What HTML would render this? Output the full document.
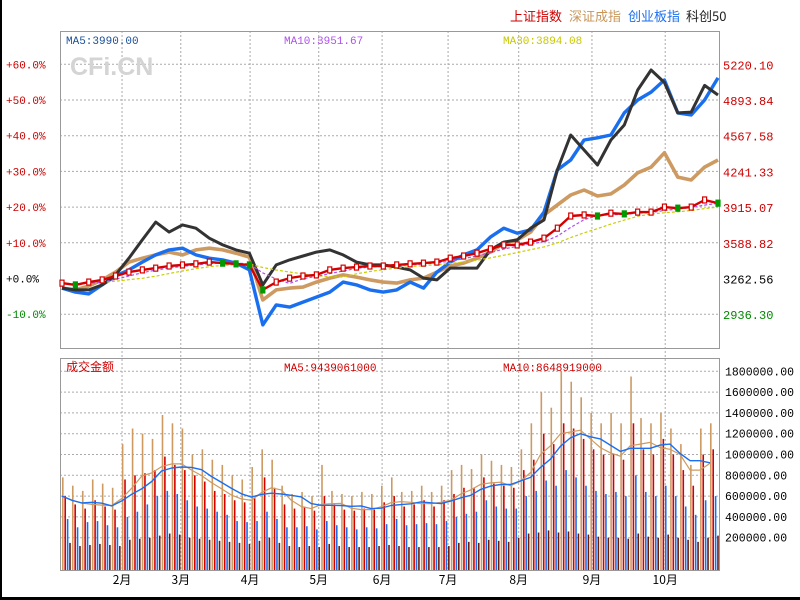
<!DOCTYPE html>
<html><head><meta charset="utf-8"><style>
html,body{margin:0;padding:0;background:#fff;}
svg{display:block;font-family:"Liberation Mono","WenQuanYi Zen Hei","Noto Sans CJK SC",monospace;}
</style></head><body>
<svg id="c" width="800" height="600">
<rect x="0" y="0" width="2" height="600" fill="#000"/>
<rect x="0" y="597" width="800" height="3" fill="#000"/>
<g font-family="'WenQuanYi Zen Hei','Noto Sans CJK SC',sans-serif" font-size="13">
<text x="510" y="21" fill="#cc0000">上证指数</text>
<text x="569" y="21" fill="#c8965a">深证成指</text>
<text x="628" y="21" fill="#1a6ff0">创业板指</text>
<text x="686" y="21" fill="#222">科创50</text>
</g>
<g id="grid"></g>
<rect x="60.5" y="31.5" width="659" height="317" fill="none" stroke="#999"/>
<rect x="60.5" y="358.5" width="659" height="212" fill="none" stroke="#999"/>
<text x="70" y="75" font-family="'Liberation Sans',sans-serif" font-weight="bold" font-size="25" fill="#d4d4d4">CFi.CN</text>
<text x="66" y="44" font-size="11" fill="#1a4f9a">MA5:3990.00</text>
<text x="284" y="44" font-size="11" fill="#b050f0">MA10:3951.67</text>
<text x="503" y="44" font-size="11" fill="#c8c800">MA30:3894.08</text>
<text x="66" y="371" font-size="12" fill="#cc0000" font-family="'WenQuanYi Zen Hei','Noto Sans CJK SC',sans-serif">成交金额</text>
<text x="284" y="371" font-size="11" fill="#cc0000">MA5:9439061000</text>
<text x="503" y="371" font-size="11" fill="#cc0000">MA10:8648919000</text>
<g id="vol"></g>
<g id="price"></g>
<g id="labels"></g>
</svg>
<script>
const NS="http://www.w3.org/2000/svg";
// price data (percent change vs base 3262.56), 50 sample points
const shanghai=[-1.3,-1.8,-1.0,-0.4,0.7,1.8,2.4,2.9,3.5,3.8,4.1,4.6,4.3,4.1,3.8,-3.2,-1.0,0.1,0.7,1.0,2.4,2.9,3.2,3.5,3.5,3.8,4.1,4.3,4.6,5.7,6.3,7.1,8.3,9.4,9.4,10.2,11.3,14.1,17.5,17.8,17.5,18.3,18.1,18.6,18.6,20.0,19.7,20.0,22.0,21.1];
const shenzhen=[-2.7,-3.2,-2.1,-0.4,1.8,4.6,5.7,6.6,7.4,6.6,8.0,8.5,8.0,7.1,6.0,-6.0,-3.2,-2.7,-2.4,-1.0,0.1,1.0,0.4,-0.4,-1.0,-1.3,-0.4,0.1,1.8,3.5,4.3,5.7,7.4,9.9,10.8,13.0,17.8,20.6,23.4,24.8,23.1,23.7,26.2,29.6,31.2,35.2,28.4,27.6,31.2,33.2];
const chinext=[-2.7,-3.8,-4.3,-1.8,0.7,2.4,4.6,6.6,8.0,8.5,6.6,5.7,5.2,4.3,2.4,-13.0,-7.4,-8.0,-6.6,-5.2,-3.8,-1.0,-1.8,-3.2,-3.8,-3.2,-1.0,-2.7,1.8,4.6,6.6,8.0,11.6,14.1,12.7,13.6,18.6,30.4,33.2,38.8,39.4,40.2,46.4,50.0,52.2,55.6,46.4,45.8,50.0,56.2];
const star50=[-2.7,-3.2,-3.2,-1.8,1.0,5.7,10.8,15.8,13.0,15.0,14.1,11.3,9.4,8.0,7.1,-1.8,3.8,5.2,6.3,7.4,8.0,6.6,4.6,3.8,3.8,3.2,2.4,0.1,-0.4,2.9,2.9,2.9,8.0,10.2,10.8,14.1,16.4,30.4,40.2,36.0,31.8,38.8,43.0,52.8,58.4,54.9,46.4,46.6,54.1,51.4];
const pctTicks=[60,50,40,30,20,10,0,-10];
const pctLabels=["+60.0%","+50.0%","+40.0%","+30.0%","+20.0%","+10.0%","+0.0%","-10.0%"];
const priceLabels=["5220.10","4893.84","4567.58","4241.33","3915.07","3588.82","3262.56","2936.30"];
const months=["2月","3月","4月","5月","6月","7月","8月","9月","10月"];
const monthPos=[9.4,18.3,28.8,39.2,48.8,58.8,69.5,80.6,91.7]; // position in % of trading period
// volume data (thousands), 66 groups
const volShenzhen=[780,700,650,760,720,680,1100,1250,1200,1150,1380,1300,1250,1000,1050,950,900,800,760,880,1050,950,700,620,640,600,900,650,620,600,640,620,700,780,640,650,700,640,700,850,900,860,1000,940,900,880,1050,1300,1600,1450,1800,1700,1550,1400,1300,1400,1300,1750,1350,1300,1400,1250,1100,900,1250,1300];
const volShanghai=[600,520,480,560,500,470,760,800,820,850,980,900,850,800,740,650,620,560,540,580,780,680,520,480,500,460,600,520,470,460,480,470,540,600,500,520,560,500,560,620,680,680,780,720,700,680,850,950,1200,1100,1300,1250,1150,1050,1000,1000,950,1300,1050,1000,1150,1000,850,700,1000,1050];
const volChinext=[380,300,350,360,320,300,400,450,520,600,650,620,560,500,480,450,420,360,350,360,450,380,300,300,310,280,360,320,300,280,300,290,330,380,320,330,340,330,360,400,430,450,560,500,480,480,600,650,750,700,850,780,700,650,620,640,600,800,640,600,700,600,500,420,560,600];
const volStar=[150,120,130,140,130,120,180,190,200,220,240,230,200,190,180,170,160,150,140,170,200,150,120,110,120,110,140,120,110,110,110,120,130,120,110,110,110,110,120,150,160,150,180,170,160,200,240,250,270,250,260,240,230,210,200,200,190,240,210,200,230,200,180,160,200,220];
const volTicks=[1800000,1600000,1400000,1200000,1000000,800000,600000,400000,200000];

const X0=62,X1=718,PL=60,PR=720;
const xP=i=>X0+i*(X1-X0)/(shanghai.length-1);
const yP=p=>278.5-p*3.57;
const xV=k=>X0+k*(X1-X0-8)/(volShanghai.length-1);
const yV=v=>558.5-v*1000*1.04e-4;
const xM=p=>PL+p/100*(PR-PL);
function mk(tag,attrs,parent){const e=document.createElementNS(NS,tag);for(const k in attrs)e.setAttribute(k,attrs[k]);parent.appendChild(e);return e;}
const grid=document.getElementById('grid'),price=document.getElementById('price'),vol=document.getElementById('vol'),labels=document.getElementById('labels');

monthPos.forEach((p,i)=>{
  const l=mk('line',{x1:xM(p),x2:xM(p),y1:31,y2:570,stroke:'#aaa','stroke-dasharray':'2,2'},grid);
  
  
  const t=mk('text',{x:xM(p),y:584,'text-anchor':'middle','font-size':12,fill:'#000','font-family':"'WenQuanYi Zen Hei','Noto Sans CJK SC',sans-serif"},labels);
  t.textContent=months[i];
  
  
});
pctTicks.forEach((p,i)=>{
  const y=yP(p);
  if(p!==0){const l=mk('line',{x1:PL,x2:PR,y1:y,y2:y,stroke:'#aaa','stroke-dasharray':'2,2'},grid);
  
  }
  const col=p>0?'#cc0000':(p<0?'#008800':'#000');
  const t=mk('text',{x:6,y:y+4,'font-size':11,fill:col},labels);
  t.textContent=pctLabels[i];
  
  
  const t2=mk('text',{x:723,y:y+5,'font-size':12,fill:col},labels);
  t2.textContent=priceLabels[i];
  
  
});
volTicks.forEach(v=>{
  const y=yV(v/1000);
  const l=mk('line',{x1:PL,x2:PR,y1:y,y2:y,stroke:'#aaa','stroke-dasharray':'2,2'},grid);
  
  
  const t=mk('text',{x:725,y:y+4,'font-size':11.5,fill:'#000'},labels);
  t.textContent=v.toFixed(2);
  
  
});
// volume bars
const volSeries=[[volShenzhen,'#cd9a62',0],[volShanghai,'#d40000',2.4],[volChinext,'#1a6ff0',4.8],[volStar,'#6a1a0a',7.2]];
volSeries.forEach(([arr,col,off])=>{
  arr.forEach((v,k)=>{
    const y=yV(v);
    const r=mk('rect',{x:xV(k)+off,y:y,width:1.6,height:570-y,fill:col},vol);
    
    
  });
});
function ma(arr,n){return arr.map((_,i)=>{const s=arr.slice(Math.max(0,i-n+1),i+1);return s.reduce((a,b)=>a+b,0)/s.length;});}
function line(vals,xf,yf,attrs,name,parent){
  const d=vals.map((v,i)=>(i?'L':'M')+xf(i).toFixed(1)+','+yf(v).toFixed(1)).join('');
  const p=mk('path',Object.assign({d:d,fill:'none','stroke-linejoin':'round'},attrs),parent);
  
  
}
line(ma(volShanghai,3),xV,yV,{stroke:'#cd9a62','stroke-width':1.2},'volume-ma-short',vol);
line(ma(volShanghai,5),xV,yV,{stroke:'#1a6ff0','stroke-width':1.4},'volume-ma-long',vol);
// price lines
line(shenzhen,xP,yP,{stroke:'#cd9a62','stroke-width':3.6},'shenzhen-line',price);
line(chinext,xP,yP,{stroke:'#1a6ff0','stroke-width':3.4},'chinext-line',price);
line(star50,xP,yP,{stroke:'#333','stroke-width':3},'star50-line',price);
line(ma(shanghai,7),xP,yP,{stroke:'#cccc00','stroke-width':1.2,'stroke-dasharray':'3,2'},'ma30-line',price);
line(ma(shanghai,3),xP,yP,{stroke:'#b050f0','stroke-width':1.2,'stroke-dasharray':'3,2'},'ma10-line',price);
line(shanghai,xP,yP,{stroke:'#d40000','stroke-width':2.4},'shanghai-line',price);
shanghai.forEach((v,i)=>{
  const up=i===0||v>=shanghai[i-1];
  const r=mk('rect',{x:xP(i)-2,y:yP(v)-3,width:4,height:6,fill:up?'#fff':'#009900',stroke:up?'#d40000':'#009900','stroke-width':1.2},price);
  
  
});
</script>
</body></html>
